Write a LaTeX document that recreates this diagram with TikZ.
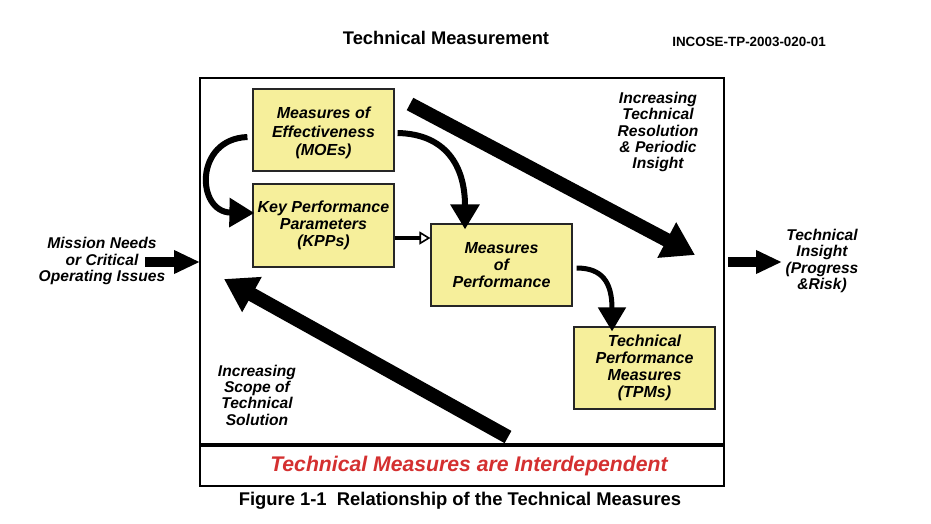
\documentclass[tikz,border=0pt]{standalone}
\usepackage{fontspec}
\setmainfont{Liberation Sans}
\usetikzlibrary{arrows.meta}
\definecolor{boxfill}{RGB}{246,239,155}
\definecolor{redtxt}{RGB}{212,48,48}
\begin{document}
\begin{tikzpicture}[x=1pt,y=-1pt,
  mbox/.style={draw=black!85,line width=1.2pt,fill=boxfill,minimum width=141pt,minimum height=82pt,
     align=center,font=\fontsize{16}{16.8}\selectfont\bfseries\itshape,inner sep=2pt},
  lbl/.style={align=center,font=\fontsize{15.6}{16.3}\selectfont\bfseries\itshape},
  curv/.style={line width=6pt,-{Triangle[length=25pt,width=28pt]}},
  bigarr/.style={line width=14pt,-{Triangle[length=32pt,width=38pt]}},
  sidearr/.style={line width=9.5pt,-{Triangle[length=26pt,width=22pt]}}
]
\useasboundingbox[fill=white] (0,0) rectangle (931,523);
% titles
\node (title) at (446,38) {\fontsize{18.3}{20}\selectfont\bfseries Technical Measurement};
\node (doc) at (749,42) {\fontsize{13.4}{15}\selectfont\bfseries INCOSE-TP-2003-020-01};
% frame
\draw[line width=2.5pt] (200,78) rectangle (724,486);
\draw[line width=4pt] (199,445) -- (725,445);
\coordinate (inL) at (200,262);
\coordinate (outR) at (728,262);
% boxes
\node[mbox] (moe) at (323.5,130) {};
\node[align=center,font=\fontsize{16}{18.5}\selectfont\bfseries\itshape] (moetxt) at (323.5,133) {Measures of\\Effectiveness\\(MOEs)};
\node[mbox,minimum height=83pt] (kpp) at (323.5,225.5) {Key Performance\\Parameters\\(KPPs)};
\node[mbox] (mop) at (501.5,265) {Measures\\of\\Performance};
\node[mbox] (tpm) at (644.5,368) {Technical\\Performance\\Measures\\(TPMs)};
% labels
\node[lbl] (mission) at (102,261) {Mission Needs\\or Critical\\Operating Issues};
\node[lbl] (insight) at (822,261) {Technical\\Insight\\(Progress\\\&Risk)};
\node[lbl] (res) at (658,132) {Increasing\\Technical\\Resolution\\\& Periodic\\Insight};
\node[lbl] (scope) at (257,395) {Increasing\\Scope of\\Technical\\Solution};
\node (inter) at (469,466) {\fontsize{21.2}{22}\selectfont\bfseries\itshape\color{redtxt}Technical Measures are Interdependent};
\node (fig) at (460,501) {\fontsize{18.4}{20}\selectfont\bfseries Figure 1-1\ \ Relationship of the Technical Measures};
% connectors
\coordinate (b1s) at (410,104);
\coordinate (b1e) at (695,255);
\draw[bigarr] (b1s) -- (b1e);
\coordinate (b2s) at (508,437);
\coordinate (b2e) at (224,279);
\draw[bigarr] (b2s) -- (b2e);
\coordinate (misE) at (145,262);
\draw[sidearr] (misE) -- (inL);
\coordinate (insW) at (782,262);
\draw[sidearr] (outR) -- (insW);
\draw[curv] ([xshift=-5pt]moe.west|-0,137) .. controls (194,139) and (196,212) .. ([xshift=2pt]kpp.west|-0,213);
\draw[curv] ([xshift=3pt]moe.east|-0,133) .. controls (445,134) and (465,165) .. ([yshift=-6pt]mop.north-|465,0);
\draw[curv,line width=5pt,-{Triangle[length=24pt,width=27pt]}] ([xshift=4pt]mop.east|-0,268) .. controls (602,268) and (612,282) .. ([yshift=-5pt]tpm.north-|612,0);
\draw[line width=4.5pt,-{Triangle[open,length=11pt,width=13pt,line width=1.6pt]}] (kpp.east|-0,238) -- (mop.west|-0,238);
\end{tikzpicture}
\end{document}
